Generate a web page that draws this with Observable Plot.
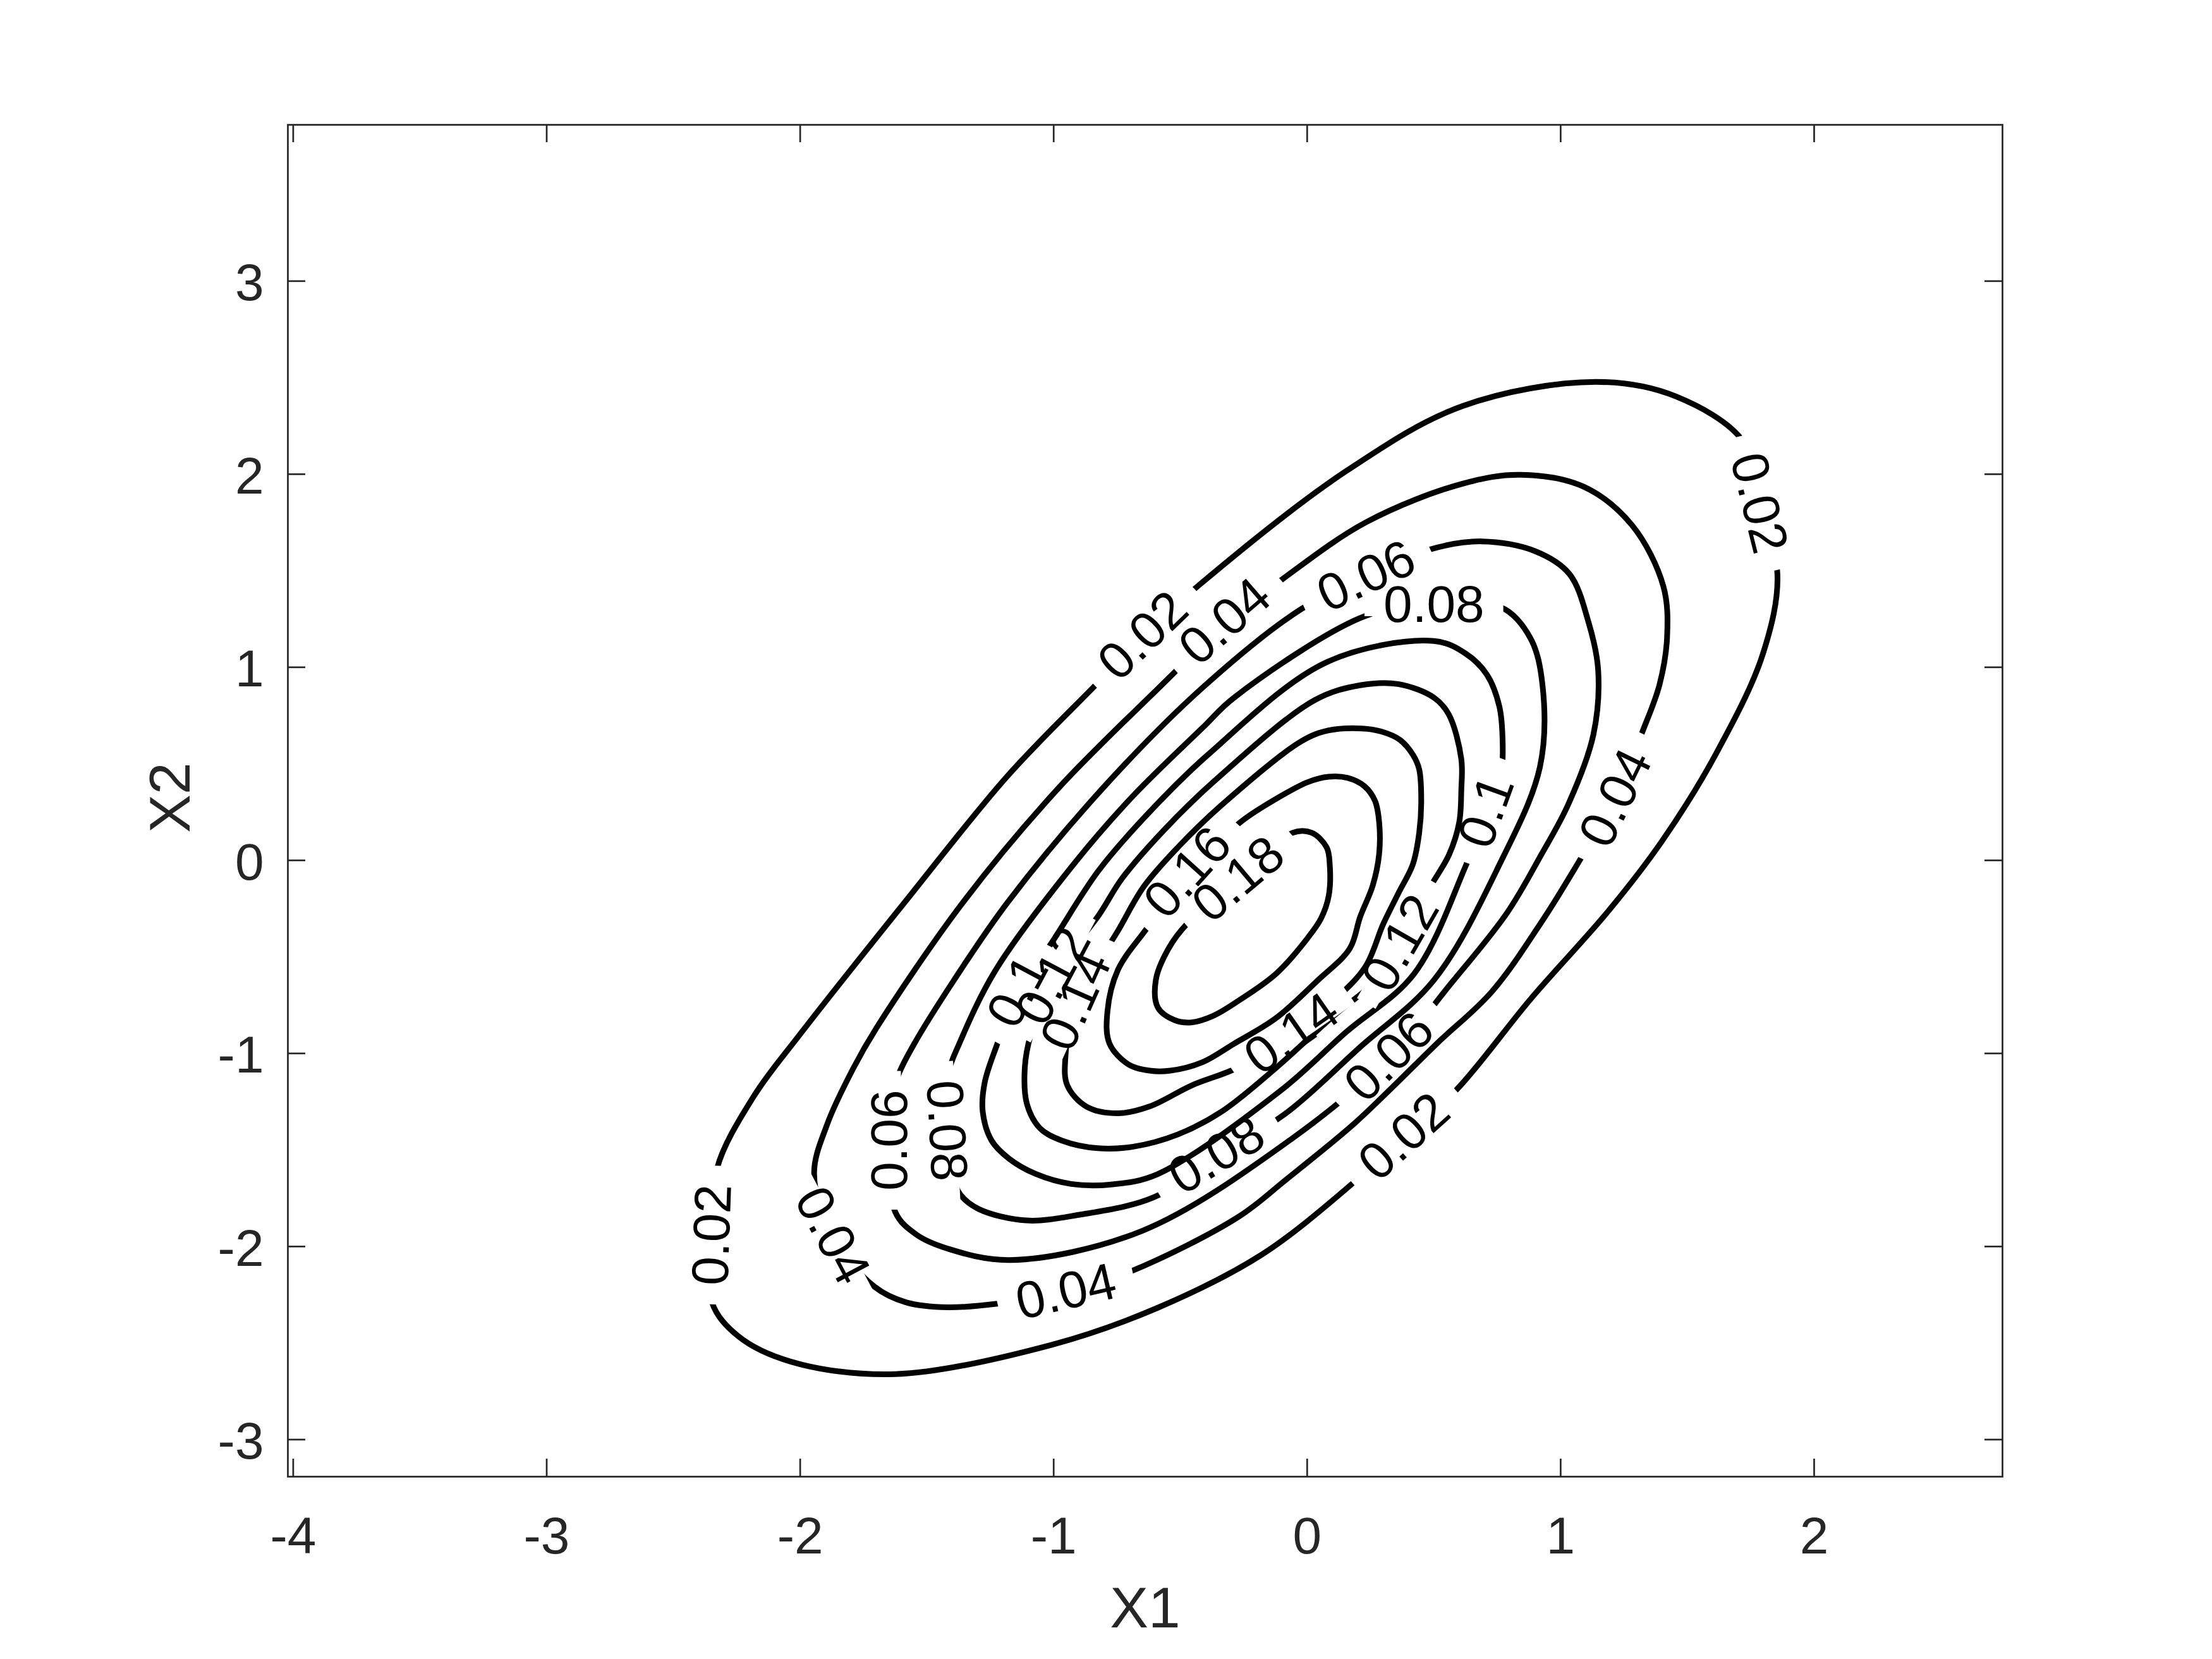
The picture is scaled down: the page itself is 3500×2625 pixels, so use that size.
<!DOCTYPE html>
<html>
<head>
<meta charset="utf-8">
<script src="https://cdn.jsdelivr.net/npm/d3@7"></script>
<script src="https://cdn.jsdelivr.net/npm/@observablehq/plot@0.6"></script>
<style>
  html, body { margin: 0; padding: 0; background: #ffffff; }
</style>
</head>
<body>
<div id="chart"></div>
<script>
// ---- contour levels ----
const levels = [0.02, 0.04, 0.06, 0.08, 0.1, 0.12, 0.14, 0.16, 0.18];

// ---- contour paths (X1, X2), one closed ring per level ----
const ring002 = [[-2.345,-1.94],[-2.328,-1.595],[-2.183,-1.222],[-2.00,-0.90],[-1.588,-0.218],[-1.182,0.437],[-0.824,0.922],[-0.646,1.162],[-0.426,1.426],[0.156,2.018],[0.613,2.353],[1.139,2.478],[1.454,2.403],[1.721,2.168],[1.78,1.85],[1.855,1.484],[1.797,1.066],[1.610,0.545],[1.40,0.10],[1.193,-0.255],[0.883,-0.716],[0.590,-1.187],[0.384,-1.433],[0.20,-1.65],[-0.178,-2.041],[-0.591,-2.318],[-1.005,-2.508],[-1.625,-2.661],[-2.038,-2.596],[-2.245,-2.464],[-2.348,-2.289]];
const ring004 = [[-1.875,-1.944],[-1.945,-1.624],[-1.894,-1.369],[-1.790,-1.076],[-1.70,-0.87],[-1.358,-0.218],[-0.979,0.377],[-0.540,0.952],[-0.323,1.235],[-0.121,1.434],[0.232,1.751],[0.613,1.951],[0.843,1.997],[1.091,1.935],[1.282,1.735],[1.405,1.42],[1.42,1.16],[1.39,0.91],[1.320,0.657],[1.219,0.322],[1.080,0.011],[0.930,-0.308],[0.728,-0.681],[0.513,-0.947],[0.334,-1.178],[0.18,-1.37],[-0.08,-1.65],[-0.273,-1.848],[-0.694,-2.128],[-0.951,-2.237],[-1.222,-2.296],[-1.418,-2.315],[-1.583,-2.289],[-1.707,-2.208]];
const ring006 = [[0.923,0.028],[1.03,0.29],[1.129,0.650],[1.148,0.984],[1.110,1.233],[1.034,1.484],[0.900,1.601],[0.690,1.652],[0.481,1.609],[0.234,1.469],[-0.025,1.300],[-0.414,0.893],[-0.804,0.377],[-1.182,-0.218],[-1.392,-0.618],[-1.55,-0.95],[-1.615,-1.12],[-1.645,-1.30],[-1.645,-1.45],[-1.625,-1.821],[-1.542,-1.938],[-1.418,-2.011],[-1.170,-2.070],[-0.651,-1.919],[-0.064,-1.445],[0.325,-1.02],[0.56,-0.65],[0.788,-0.273]];
const ring008 = [[0.760,-0.018],[0.918,0.482],[0.929,0.900],[0.881,1.150],[0.767,1.309],[0.50,1.32],[0.232,1.267],[-0.289,0.842],[-0.410,0.690],[-0.686,0.335],[-0.918,-0.015],[-1.231,-0.573],[-1.372,-0.948],[-1.415,-1.10],[-1.425,-1.40],[-1.395,-1.646],[-1.367,-1.733],[-1.294,-1.807],[-1.108,-1.865],[-0.901,-1.836],[-0.605,-1.745],[-0.356,-1.53],[-0.086,-1.312],[0.208,-0.968],[0.500,-0.620]];
const ring010 = [[0.625,-0.03],[0.709,0.252],[0.765,0.45],[0.771,0.62],[0.758,0.798],[0.709,0.962],[0.625,1.071],[0.50,1.136],[0.078,1.027],[-0.388,0.551],[-0.625,0.246],[-0.824,-0.055],[-1.012,-0.435],[-1.14,-0.68],[-1.225,-0.96],[-1.272,-1.15],[-1.28,-1.30],[-1.245,-1.451],[-1.176,-1.545],[-1.071,-1.624],[-0.931,-1.676],[-0.773,-1.679],[-0.59,-1.625],[-0.105,-1.193],[0.154,-0.889],[0.422,-0.587]];
const ring012 = [[0.56,0.03],[0.600,0.198],[0.608,0.362],[0.608,0.525],[0.559,0.755],[0.501,0.842],[0.359,0.913],[0.209,0.907],[0.03,0.83],[-0.365,0.412],[-0.564,0.158],[-0.731,-0.095],[-0.821,-0.282],[-1.0,-0.60],[-1.09,-0.90],[-1.114,-1.076],[-1.105,-1.264],[-1.053,-1.389],[-0.966,-1.452],[-0.826,-1.491],[-0.686,-1.483],[-0.511,-1.420],[-0.336,-1.30],[-0.124,-1.076],[0.100,-0.810],[0.29,-0.60],[0.37,-0.43],[0.48,-0.15]];
const ring014 = [[0.417,-0.020],[0.442,0.143],[0.450,0.307],[0.442,0.471],[0.417,0.547],[0.366,0.624],[0.293,0.667],[0.218,0.683],[0.085,0.673],[-0.023,0.617],[-0.344,0.279],[-0.506,0.073],[-0.643,-0.133],[-0.746,-0.364],[-0.91,-0.73],[-0.954,-1.024],[-0.946,-1.166],[-0.871,-1.275],[-0.746,-1.31],[-0.622,-1.275],[-0.456,-1.166],[-0.273,-1.073],[-0.06,-0.90],[0.11,-0.72],[0.23,-0.55],[0.30,-0.33],[0.36,-0.17]];
const ring016 = [[0.259,-0.129],[0.284,0.034],[0.284,0.198],[0.268,0.307],[0.226,0.384],[0.160,0.427],[0.085,0.433],[0.002,0.405],[-0.123,0.318],[-0.266,0.195],[-0.47,-0.065],[-0.630,-0.348],[-0.746,-0.566],[-0.788,-0.784],[-0.780,-0.948],[-0.705,-1.057],[-0.622,-1.089],[-0.539,-1.089],[-0.414,-1.046],[-0.289,-0.95],[-0.123,-0.817],[0.043,-0.620],[0.168,-0.457],[0.209,-0.293]];
const ring018 = [[-0.472,-0.326],[-0.27,-0.10],[-0.057,0.143],[0.018,0.143],[0.077,0.067],[0.089,-0.020],[0.085,-0.184],[0.055,-0.30],[0.002,-0.402],[-0.123,-0.588],[-0.273,-0.729],[-0.372,-0.806],[-0.456,-0.839],[-0.522,-0.828],[-0.589,-0.762],[-0.597,-0.620],[-0.547,-0.457]];
const rings = [ring002, ring004, ring006, ring008, ring010, ring012, ring014, ring016, ring018];

// ---- in-line contour labels: level, position (X1, X2), rotation in degrees ----
const labelLevel = [0.02, 0.02, 0.02, 0.02, 0.04, 0.04, 0.04, 0.04, 0.06, 0.06, 0.06, 0.08, 0.08, 0.08, 0.1, 0.1, 0.12, 0.12, 0.14, 0.14, 0.16, 0.18];
const labelX     = [-0.646, 1.78, 0.384, -2.345, -0.323, 1.219, -0.951, -1.875, 0.234, 0.325, -1.645, 0.50, -1.425, -0.356, 0.709, -1.14, 0.37, -1.0, -0.06, -0.91, -0.47, -0.27];
const labelY     = [1.162, 1.85, -1.433, -1.94, 1.235, 0.322, -2.237, -1.944, 1.469, -1.02, -1.45, 1.32, -1.40, -1.53, 0.252, -0.68, -0.43, -0.60, -0.90, -0.73, -0.065, -0.10];
const labelAngle = [-44, 76, -42, -88, -41, -64, -13, 62, -25, -45, -90, 0, 87, -31, -70, -62, -60, -62, -35, -66, -48, -40];

// ---- axes ----
const xTicks = [-4, -3, -2, -1, 0, 1, 2];
const yTicks = [-3, -2, -1, 0, 1, 2, 3];
const xDomain = [-4.021, 2.743];
const yDomain = [-3.192, 3.8095];
const xTitle = "X1";
const yTitle = "X2";

// ---- layout ----
const W = 3500, H = 2625;
const mL = 455, mR = 332, mT = 197, mB = 289;
const axisColor = "#262626";
const font = "'Liberation Sans', Arial, Helvetica, sans-serif";
const labelFont = 82;
const tickLen = 28;

const xs = d3.scaleLinear(xDomain, [mL, W - mR]);
const ys = d3.scaleLinear(yDomain, [H - mB, mT]);

const rows = rings.flatMap((ring, i) => ring.map(([x, y]) => ({x, y, level: levels[i]})));

const labels = labelLevel.map((lv, i) => {
  const text = String(lv);
  const len = labelFont * (0.556 * (text.length - 1) + 0.278) + 60;
  const a = labelAngle[i] * Math.PI / 180;
  const px = xs(labelX[i]), py = ys(labelY[i]);
  const dx = Math.cos(a) * len / 2, dy = Math.sin(a) * len / 2;
  return {
    text, x: labelX[i], y: labelY[i], angle: labelAngle[i],
    gx1: xs.invert(px - dx), gy1: ys.invert(py - dy),
    gx2: xs.invert(px + dx), gy2: ys.invert(py + dy)
  };
});

const yBottomTick = ys.invert(H - mB - tickLen);
const yTopTick = ys.invert(mT + tickLen);
const xLeftTick = xs.invert(mL + tickLen);
const xRightTick = xs.invert(W - mR - tickLen);

const chart = Plot.plot({
  width: W,
  height: H,
  marginLeft: mL,
  marginRight: mR,
  marginTop: mT,
  marginBottom: mB,
  x: {domain: xDomain, axis: null},
  y: {domain: yDomain, axis: null},
  style: {fontFamily: font, background: "#ffffff", overflow: "visible"},
  marks: [
    Plot.line(rows, {x: "x", y: "y", z: "level", curve: "catmull-rom-closed", stroke: "#000000", strokeWidth: 9, strokeLinejoin: "round"}),
    Plot.link(labels, {x1: "gx1", y1: "gy1", x2: "gx2", y2: "gy2", stroke: "#ffffff", strokeWidth: 34}),
    Plot.text(labels, {x: "x", y: "y", text: "text", rotate: "angle", fontSize: labelFont, fontFamily: font, fill: "#000000", textAnchor: "middle", lineAnchor: "middle"}),
    Plot.frame({stroke: axisColor, strokeWidth: 2.7}),
    Plot.ruleX(xTicks, {x: d => d, y1: yDomain[0], y2: yBottomTick, stroke: axisColor, strokeWidth: 2.7}),
    Plot.ruleX(xTicks, {x: d => d, y1: yDomain[1], y2: yTopTick, stroke: axisColor, strokeWidth: 2.7}),
    Plot.ruleY(yTicks, {y: d => d, x1: xDomain[0], x2: xLeftTick, stroke: axisColor, strokeWidth: 2.7}),
    Plot.ruleY(yTicks, {y: d => d, x1: xDomain[1], x2: xRightTick, stroke: axisColor, strokeWidth: 2.7}),
    Plot.text(xTicks, {x: d => d, y: yDomain[0], text: d => String(d), dy: 63, lineAnchor: "top", textAnchor: "middle", fontSize: 82, fontFamily: font, fill: axisColor}),
    Plot.text(yTicks, {x: xDomain[0], y: d => d, text: d => String(d), dx: -38, dy: 4, lineAnchor: "middle", textAnchor: "end", fontSize: 82, fontFamily: font, fill: axisColor}),
    Plot.text([xTitle], {frameAnchor: "bottom", text: d => d, dy: 209, lineAnchor: "middle", textAnchor: "middle", fontSize: 91, fontFamily: font, fill: axisColor}),
    Plot.text([yTitle], {frameAnchor: "left", text: d => d, dx: -185, dy: -5, rotate: -90, lineAnchor: "middle", textAnchor: "middle", fontSize: 91, fontFamily: font, fill: axisColor})
  ]
});

document.getElementById("chart").appendChild(chart);
</script>
</body>
</html>
